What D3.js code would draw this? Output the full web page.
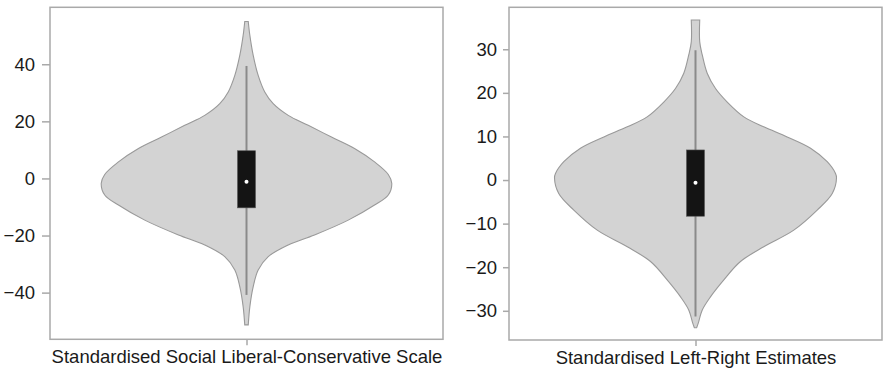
<!DOCTYPE html>
<html>
<head>
<meta charset="utf-8">
<script src="https://cdn.jsdelivr.net/npm/d3@7"></script>
<style>
  html, body { margin: 0; padding: 0; background: #fff; }
  svg { display: block; }
  text { font-family: "Liberation Sans", Arial, sans-serif; fill: #1a1a1a; }
</style>
</head>
<body>
<svg id="chart" width="883" height="368"></svg>
<script>
// Social liberal-conservative scale: estimated density profile
const socialY = [55.0, 50.1, 43.1, 36.1, 30.3, 26.2, 22.1, 18.6, 14.5, 10.5, 5.8, 1.4, -1.7, -5.8, -9.3, -14.6, -19.8, -23.3, -27.4, -32.1, -37.9, -44.9, -51.3];
const socialDensity = [0.012, 0.023, 0.046, 0.080, 0.125, 0.183, 0.286, 0.423, 0.582, 0.740, 0.877, 0.971, 0.995, 0.971, 0.877, 0.697, 0.466, 0.286, 0.149, 0.080, 0.046, 0.023, 0.012];
// whisker low, Q1, median, Q3, whisker high
const socialBox = [-40.8, -10.3, -1.2, 9.7, 39.4];
const socialTicks = [-40, -20, 0, 20, 40];
const socialLabel = "Standardised Social Liberal-Conservative Scale";

// Left-right estimates: estimated density profile
const lrY = [36.7, 31.7, 28.7, 24.5, 21.0, 17.9, 14.5, 12.2, 9.9, 7.3, 4.2, 1.5, 0.5, -3.1, -6.9, -11.5, -15.3, -18.7, -22.9, -26.8, -29.8, -32.9, -33.9];
const lrDensity = [0.030, 0.030, 0.048, 0.083, 0.142, 0.225, 0.343, 0.484, 0.650, 0.816, 0.934, 0.993, 1.0, 0.970, 0.863, 0.697, 0.484, 0.319, 0.201, 0.106, 0.048, 0.019, 0.008];
const lrBox = [-31.3, -8.3, -0.6, 6.9, 29.8];
const lrTicks = [-30, -20, -10, 0, 10, 20, 30];
const lrLabel = "Standardised Left-Right Estimates";

const svg = d3.select("#chart");

function violinPanel(opts) {
  const { left, right, top, bottom, domain, ys, dens, box, ticks, label, halfWidth, tickSize, tickPad } = opts;
  const g = svg.append("g");
  const y = d3.scaleLinear().domain(domain).range([bottom, top]);
  const x = d3.scalePoint().domain([label]).range([left, right]).padding(0.5);
  const cx = x(label);
  const w = d3.scaleLinear().domain([0, 1]).range([0, halfWidth]);

  // frame
  g.append("rect")
    .attr("x", left).attr("y", top)
    .attr("width", right - left).attr("height", bottom - top)
    .attr("fill", "none").attr("stroke", "#a9a9a9").attr("stroke-width", 1.5);

  // violin body
  const pts = ys.map((v, i) => ({ v, d: dens[i] }));
  const area = d3.area()
    .curve(d3.curveCatmullRom)
    .y(d => y(d.v))
    .x0(d => cx - w(d.d))
    .x1(d => cx + w(d.d));
  g.append("path")
    .datum(pts)
    .attr("d", area)
    .attr("fill", "#d3d3d3")
    .attr("stroke", "#999")
    .attr("stroke-width", 1.1);

  // whiskers
  g.append("line")
    .attr("x1", cx).attr("x2", cx)
    .attr("y1", y(box[0])).attr("y2", y(box[4]))
    .attr("stroke", "#8a8a8a").attr("stroke-width", 2);

  // interquartile box
  g.append("rect")
    .attr("x", cx - 9).attr("width", 18)
    .attr("y", y(box[3])).attr("height", y(box[1]) - y(box[3]))
    .attr("fill", "#141414").attr("stroke", "#555").attr("stroke-width", 0.6);

  // median
  g.append("circle")
    .attr("cx", cx).attr("cy", y(box[2])).attr("r", 2)
    .attr("fill", "#fff");

  // y axis
  const ya = g.append("g")
    .attr("transform", `translate(${left},0)`)
    .call(d3.axisLeft(y).tickValues(ticks).tickSize(tickSize).tickPadding(tickPad));
  ya.select(".domain").remove();
  ya.selectAll("line").attr("stroke", "#a9a9a9").attr("stroke-width", 1.5);
  ya.selectAll("text")
    .attr("font-size", 18.5)
    .attr("font-family", "Liberation Sans, Arial, sans-serif")
    .attr("fill", "#1a1a1a");

  // x axis
  const xa = g.append("g")
    .attr("transform", `translate(0,${bottom})`)
    .call(d3.axisBottom(x).tickSize(6).tickPadding(4.5));
  xa.select(".domain").remove();
  xa.selectAll("line").attr("stroke", "#a9a9a9").attr("stroke-width", 1.5);
  xa.selectAll("text")
    .attr("font-size", 18.5)
    .attr("font-family", "Liberation Sans, Arial, sans-serif")
    .attr("fill", "#1a1a1a");
}

violinPanel({
  left: 50, right: 443, top: 7.3, bottom: 339.3,
  domain: [-56.35, 59.95],
  ys: socialY, dens: socialDensity, box: socialBox, ticks: socialTicks,
  label: socialLabel, halfWidth: 146, tickSize: 8, tickPad: 7
});

violinPanel({
  left: 509, right: 882, top: 7.3, bottom: 340,
  domain: [-36.7, 39.63],
  ys: lrY, dens: lrDensity, box: lrBox, ticks: lrTicks,
  label: lrLabel, halfWidth: 141, tickSize: 6, tickPad: 6
});
</script>
</body>
</html>
